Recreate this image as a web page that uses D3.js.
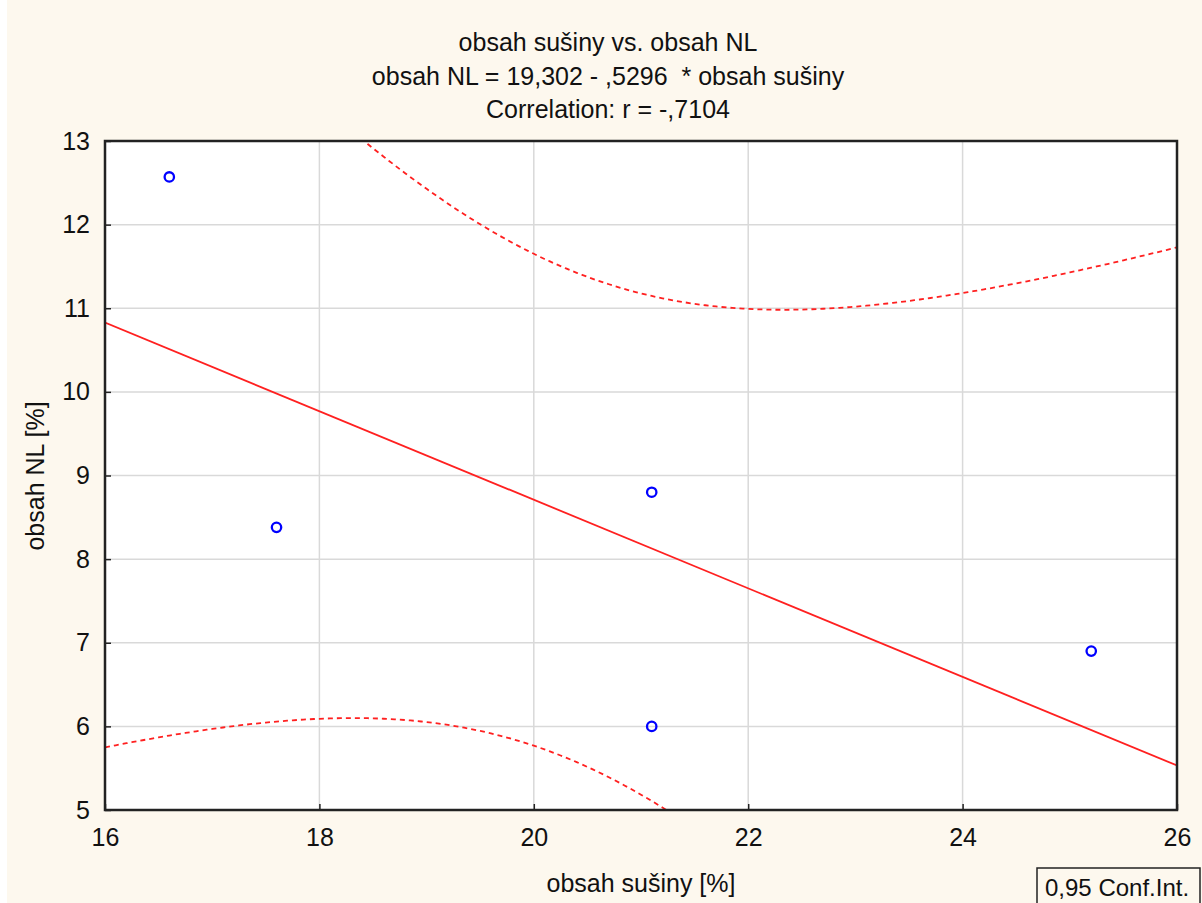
<!DOCTYPE html>
<html><head><meta charset="utf-8">
<script src="https://cdn.jsdelivr.net/npm/d3@7"></script>
<style>
html,body{margin:0;padding:0;background:#fdf8ee;}
svg{display:block;font-family:"Liberation Sans",Arial,sans-serif;}
text{white-space:pre;}
</style></head>
<body>
<script>
// Data
const xValues = [16.6, 17.6, 21.1, 21.1, 25.2];   // obsah sušiny [%]
const yValues = [12.57, 8.38, 8.8, 6.0, 6.9];    // obsah NL [%]
const intercept = 19.302;
const slope = -0.5296;
const tCrit = 3.182; // t(0.975, df=3) for the 0.95 conf. interval
const xTicks = [16, 18, 20, 22, 24, 26];
const yTicks = [5, 6, 7, 8, 9, 10, 11, 12, 13];
const titleLines = ["obsah sušiny vs. obsah NL", "obsah NL = 19,302 - ,5296  * obsah sušiny", "Correlation: r = -,7104"];

const W = 1202, H = 903, FS = 25;
const m = {l:105, r:1177, t:141, b:810};
const svg = d3.select("body").append("svg").attr("width", W).attr("height", H);
svg.append("rect").attr("width", W).attr("height", H).attr("fill", "#fdf8ee");
svg.append("rect").attr("width", 7).attr("height", H).attr("fill", "#ffffff");

const x = d3.scaleLinear().domain([16, 26]).range([m.l, m.r]);
const y = d3.scaleLinear().domain([5, 13]).range([m.b, m.t]);

svg.append("rect").attr("x", m.l).attr("y", m.t).attr("width", m.r - m.l).attr("height", m.b - m.t).attr("fill", "#fff");

// grid
const g = svg.append("g");
g.selectAll(".gx").data(xTicks.slice(1, -1)).join("line")
  .attr("x1", d => x(d)).attr("x2", d => x(d)).attr("y1", m.t).attr("y2", m.b)
  .attr("stroke", "#d9d9d9").attr("stroke-width", 1.5);
g.selectAll(".gy").data(yTicks.slice(1, -1)).join("line")
  .attr("y1", d => y(d)).attr("y2", d => y(d)).attr("x1", m.l).attr("x2", m.r)
  .attr("stroke", "#d9d9d9").attr("stroke-width", 1.5);

// stats for confidence band
const n = xValues.length;
const xm = d3.mean(xValues);
const sxx = d3.sum(xValues, v => (v - xm) ** 2);
const sse = d3.sum(xValues, (v, i) => (yValues[i] - (intercept + slope * v)) ** 2);
const s = Math.sqrt(sse / (n - 2));
const xs = d3.range(16, 26.0001, 0.05);
const hw = v => tCrit * s * Math.sqrt(1 / n + (v - xm) ** 2 / sxx);
const fit = v => intercept + slope * v;

svg.append("clipPath").attr("id", "clip").append("rect")
  .attr("x", m.l).attr("y", m.t).attr("width", m.r - m.l).attr("height", m.b - m.t);
const plot = svg.append("g").attr("clip-path", "url(#clip)");
const line = d3.line().x(d => x(d[0])).y(d => y(d[1]));

plot.append("path").datum(xs.map(v => [v, fit(v) + hw(v)])).attr("d", line)
  .attr("fill", "none").attr("stroke", "#ff2020").attr("stroke-width", 1.8).attr("stroke-dasharray", "5,4");
plot.append("path").datum(xs.map(v => [v, fit(v) - hw(v)])).attr("d", line)
  .attr("fill", "none").attr("stroke", "#ff2020").attr("stroke-width", 1.8).attr("stroke-dasharray", "5,4");
plot.append("path").datum([[16, fit(16)], [26, fit(26)]]).attr("d", line)
  .attr("fill", "none").attr("stroke", "#ff2020").attr("stroke-width", 1.8);

plot.selectAll("circle").data(xValues).join("circle")
  .attr("cx", d => x(d)).attr("cy", (d, i) => y(yValues[i])).attr("r", 4.7)
  .attr("fill", "none").attr("stroke", "#0000ff").attr("stroke-width", 2.3);

// axes
const ax = svg.append("g").attr("transform", `translate(0,${m.b})`)
  .call(d3.axisBottom(x).tickValues(xTicks).tickSize(-6).tickPadding(18));
const ay = svg.append("g").attr("transform", `translate(${m.l},0)`)
  .call(d3.axisLeft(y).tickValues(yTicks).tickSize(-6).tickPadding(15));
[ax, ay].forEach(a => {
  a.select(".domain").remove();
  a.selectAll(".tick line").attr("stroke", "#222").attr("stroke-width", 1.5);
  a.selectAll("text").attr("font-size", FS).attr("fill", "#111").attr("font-family", "'Liberation Sans',Arial,sans-serif");
});
ax.selectAll(".tick text").attr("dy", "0.71em");

svg.append("rect").attr("x", m.l).attr("y", m.t).attr("width", m.r - m.l).attr("height", m.b - m.t)
  .attr("fill", "none").attr("stroke", "#222").attr("stroke-width", 2.5);

// titles
svg.selectAll(".title").data(titleLines).join("text")
  .attr("x", 608).attr("y", (d, i) => 51 + i * 33.5).attr("text-anchor", "middle")
  .attr("font-size", FS).attr("fill", "#111").text(d => d);

svg.append("text").attr("x", 641).attr("y", 892).attr("text-anchor", "middle")
  .attr("font-size", FS).attr("fill", "#111").text("obsah sušiny [%]");
svg.append("text").attr("transform", "translate(44,476) rotate(-90)").attr("text-anchor", "middle")
  .attr("font-size", FS).attr("fill", "#111").text("obsah NL [%]");

// legend box
svg.append("rect").attr("x", 1037).attr("y", 868).attr("width", 163).attr("height", 40)
  .attr("fill", "#fdf8ee").attr("stroke", "#222").attr("stroke-width", 1.5);
svg.append("text").attr("x", 1045).attr("y", 896).attr("font-size", FS - 1).attr("fill", "#111").text("0,95 Conf.Int.");
</script>
</body></html>
